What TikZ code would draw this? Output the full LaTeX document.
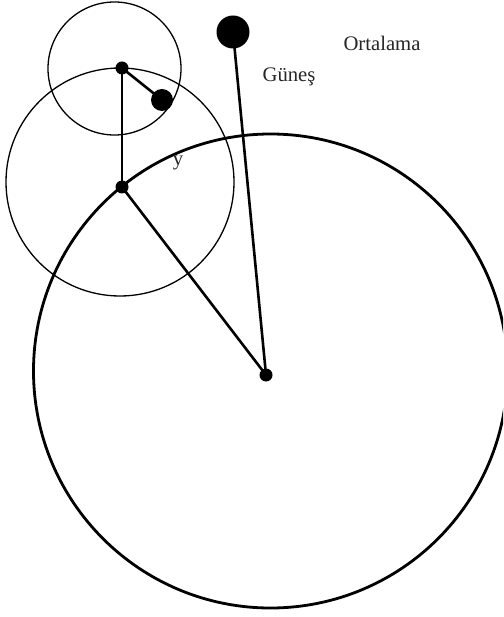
\documentclass[tikz,border=0pt]{standalone}
\usepackage{fontspec}
\setmainfont{Liberation Serif}
\begin{document}
\begin{tikzpicture}[x=1pt,y=-1pt,
  orbitbig/.style={line width=2.8pt},
  orbitthin/.style={line width=1.3pt},
  arm/.style={line width=2.6pt},
  dotsmall/.style={circle,fill=black,inner sep=0pt,minimum size=13pt},
  dotmid/.style={circle,fill=black,inner sep=0pt,minimum size=22pt},
  dotbig/.style={circle,fill=black,inner sep=0pt,minimum size=33pt},
  lbl/.style={font=\fontsize{20.7}{24}\selectfont,text=black!85,inner sep=0pt}]
\useasboundingbox (0,0) rectangle (503,617);
\begin{scope}
\clip (0,0) rectangle (503,617);
\draw[orbitbig] (270.5,371) circle (237);
\end{scope}
\node[dotsmall] (c) at (266,375) {};
\node[dotsmall] (e) at (122,187) {};
\node[dotsmall] (m) at (122,68) {};
\node[dotmid] (p) at (162,100) {};
\node[dotbig] (s) at (233,32) {};
\draw[orbitthin] (120,182) circle (114);
\draw[orbitthin] (114.5,68.5) circle (66.5);
\draw[arm] (m.center) -- (e.center);
\draw[arm] (m.center) -- (p.center);
\draw[arm] (e.center) -- (c.center);
\draw[arm] (s.center) -- (c.center);
\node[lbl] (ly) at (178,163) {y};
\node[lbl] (lg) at (289,77) {Güneş};
\node[lbl] (lo) at (382,43) {Ortalama};
\end{tikzpicture}
\end{document}
